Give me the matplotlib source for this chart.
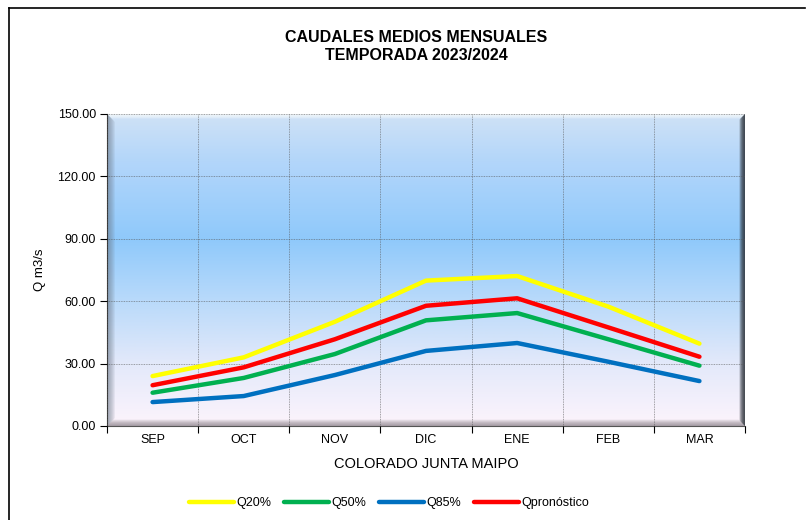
import numpy as np
import matplotlib.pyplot as plt
from matplotlib.colors import LinearSegmentedColormap
from matplotlib.patches import Polygon
from matplotlib.lines import Line2D

plt.rcParams['font.family'] = ['Liberation Sans', 'DejaVu Sans']

meses = ['SEP', 'OCT', 'NOV', 'DIC', 'ENE', 'FEB', 'MAR']
q20 = [24.0, 33.0, 50.1, 69.9, 72.1, 57.4, 39.6]
q50 = [16.0, 23.1, 34.6, 50.8, 54.3, 41.7, 29.0]
q85 = [11.5, 14.4, 24.5, 36.1, 39.9, 30.9, 21.6]
qpron = [19.6, 28.2, 41.7, 57.8, 61.4, 47.4, 33.3]
yticks = [0, 30, 60, 90, 120, 150]

fig = plt.figure(figsize=(8.09, 5.20), dpi=100)
W, H = 809, 520
x0, x1, y0, y1 = 107, 745, 114, 426
ax = fig.add_axes([x0 / W, 1 - y1 / H, (x1 - x0) / W, (y1 - y0) / H])

# fondo degradado
cmap = LinearSegmentedColormap.from_list('bg', [
    (0.0, '#cfe2f6'), (0.15, '#b3d6fa'), (0.4, '#8fc9fb'),
    (0.6, '#b9dafa'), (0.8, '#e3e9fa'), (1.0, '#fdf4fc')])
grad = np.linspace(0, 1, 256).reshape(-1, 1)
ax.imshow(grad, aspect='auto', cmap=cmap, extent=[0, 1, 0, 1],
          transform=ax.transAxes, zorder=0)

# bisel
aw, ah = x1 - x0, y1 - y0
def bev(px, side, color, alpha):
    dx, dy = px / aw, px / ah
    pts = {
        'left': [(0, 0), (dx, dy), (dx, 1 - dy), (0, 1)],
        'right': [(1, 0), (1 - dx, dy), (1 - dx, 1 - dy), (1, 1)],
        'bottom': [(0, 0), (1, 0), (1 - dx, dy), (dx, dy)],
        'top': [(0, 1), (1, 1), (1 - dx, 1 - dy), (dx, 1 - dy)],
    }[side]
    ax.add_patch(Polygon(pts, closed=True, transform=ax.transAxes,
                         facecolor=color, edgecolor='none', alpha=alpha, zorder=1))

for k in range(8, 0, -1):
    bev(k, 'left', '#6c7888', 0.10)
    bev(k * 0.7, 'right', '#2e333a', 0.22)
    bev(k * 0.8, 'bottom', '#8a8088', 0.14)
    bev(k * 0.6, 'top', '#ffffff', 0.16)

x = np.arange(len(meses))
ax.plot(x, q20, color='#ffff00', lw=3.2, solid_capstyle='round', label='Q20%', zorder=3)
ax.plot(x, q50, color='#00b050', lw=3.2, solid_capstyle='round', label='Q50%', zorder=3)
ax.plot(x, q85, color='#0070c0', lw=3.2, solid_capstyle='round', label='Q85%', zorder=3)
ax.plot(x, qpron, color='#ff0000', lw=3.2, solid_capstyle='round', label='Qpronóstico', zorder=3)

ax.set_xlim(-0.5, len(meses) - 0.5)
ax.set_ylim(0, 150)
ax.set_yticks(yticks)
ax.set_yticklabels([f'{v:.2f}' for v in yticks], fontsize=9)
ax.set_xticks(np.arange(-0.5, len(meses), 1))
ax.set_xticklabels([])
ax.set_xticks(x, minor=True)
ax.set_xticklabels(meses, minor=True, fontsize=9)
ax.tick_params(axis='x', which='minor', length=0, pad=6)
ax.tick_params(axis='x', which='major', length=5, direction='out')
ax.tick_params(axis='y', length=5, direction='out', pad=3)
ax.grid(True, which='major', color='#555555', linestyle=(0, (1, 1)), linewidth=0.6, alpha=0.7)
ax.set_axisbelow(False)
for s in ['top', 'right']:
    ax.spines[s].set_visible(False)
ax.spines['left'].set_color('#333333')
ax.spines['bottom'].set_color('#555555')

ax.set_ylabel('Q m3/s', fontsize=9.5, labelpad=8)
ax.set_xlabel('COLORADO JUNTA MAIPO', fontsize=10.5, labelpad=8)

fig.text(416 / W, 1 - 37 / H, 'CAUDALES MEDIOS MENSUALES', ha='center', va='center',
         fontsize=11.5, fontweight='bold')
fig.text(416 / W, 1 - 55 / H, 'TEMPORADA 2023/2024', ha='center', va='center',
         fontsize=11.5, fontweight='bold')

fig.legend(loc='center', bbox_to_anchor=(389 / W, 1 - 503 / H), ncol=4, frameon=False,
           fontsize=9, handlelength=3.6, handletextpad=0.2, columnspacing=1.0)

# borde de la figura (izquierdo y superior)
fig.add_artist(Line2D([9 / W, 805 / W], [1 - 8 / H, 1 - 8 / H], color='black', lw=1.2,
                      transform=fig.transFigure))
fig.add_artist(Line2D([9 / W, 9 / W], [1 - 8 / H, 0], color='black', lw=1.2,
                      transform=fig.transFigure))

fig.savefig('out.png', dpi=100)
